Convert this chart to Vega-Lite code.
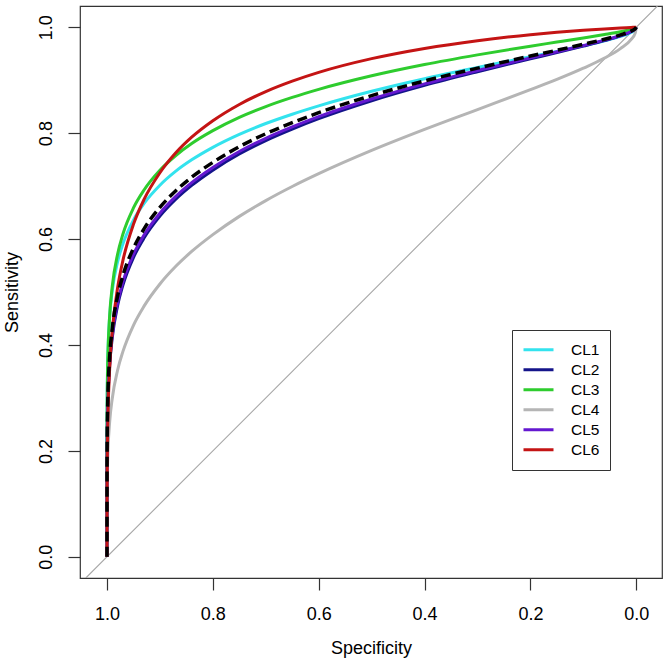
{
  "$schema": "https://vega.github.io/schema/vega-lite/v6.json",
  "width": 582,
  "height": 572,
  "autosize": {"type": "none"},
  "padding": {"left": 80, "right": 2, "top": 6, "bottom": 82},
  "background": "white",
  "config": {
    "font": "Liberation Sans",
    "view": {"stroke": "#333333", "strokeWidth": 1.2},
    "axis": {"grid": false, "domain": false, "tickColor": "#333333", "tickWidth": 1.2, "tickSize": 12,
      "labelFont": "Liberation Sans", "labelFontSize": 18, "labelColor": "black",
      "titleFont": "Liberation Sans", "titleFontSize": 18, "titleFontWeight": "normal", "titleColor": "black"}
  },
  "datasets": {
    "curves": [
      {"s":"CL1","spec":1,"sens":0},{"s":"CL1","spec":0.9999,"sens":0.2451},{"s":"CL1","spec":0.9995,"sens":0.3171},{"s":"CL1","spec":0.999,"sens":0.3538},{"s":"CL1","spec":0.998,"sens":0.394},{"s":"CL1","spec":0.995,"sens":0.453},{"s":"CL1","spec":0.99,"sens":0.5028},{"s":"CL1","spec":0.98,"sens":0.5569},{"s":"CL1","spec":0.97,"sens":0.5906},{"s":"CL1","spec":0.95,"sens":0.6357},{"s":"CL1","spec":0.93,"sens":0.6671},{"s":"CL1","spec":0.9,"sens":0.7016},{"s":"CL1","spec":0.87,"sens":0.7281},{"s":"CL1","spec":0.84,"sens":0.7495},{"s":"CL1","spec":0.8,"sens":0.7731},{"s":"CL1","spec":0.75,"sens":0.7976},{"s":"CL1","spec":0.7,"sens":0.8181},{"s":"CL1","spec":0.65,"sens":0.8357},{"s":"CL1","spec":0.6,"sens":0.8515},{"s":"CL1","spec":0.5,"sens":0.879},{"s":"CL1","spec":0.4,"sens":0.9027},{"s":"CL1","spec":0.3,"sens":0.9239},{"s":"CL1","spec":0.2,"sens":0.9442},{"s":"CL1","spec":0.15,"sens":0.9543},{"s":"CL1","spec":0.1,"sens":0.9649},{"s":"CL1","spec":0.06,"sens":0.9743},{"s":"CL1","spec":0.03,"sens":0.9826},{"s":"CL1","spec":0.01,"sens":0.9902},{"s":"CL1","spec":0.002,"sens":0.9955},{"s":"CL1","spec":0,"sens":1},
      {"s":"CL2","spec":1,"sens":0},{"s":"CL2","spec":0.9999,"sens":0.1591},{"s":"CL2","spec":0.9995,"sens":0.2242},{"s":"CL2","spec":0.999,"sens":0.2594},{"s":"CL2","spec":0.998,"sens":0.299},{"s":"CL2","spec":0.995,"sens":0.3602},{"s":"CL2","spec":0.99,"sens":0.4137},{"s":"CL2","spec":0.98,"sens":0.4741},{"s":"CL2","spec":0.97,"sens":0.5127},{"s":"CL2","spec":0.95,"sens":0.5651},{"s":"CL2","spec":0.93,"sens":0.6018},{"s":"CL2","spec":0.9,"sens":0.6432},{"s":"CL2","spec":0.87,"sens":0.6751},{"s":"CL2","spec":0.84,"sens":0.7012},{"s":"CL2","spec":0.8,"sens":0.7301},{"s":"CL2","spec":0.75,"sens":0.7606},{"s":"CL2","spec":0.7,"sens":0.7859},{"s":"CL2","spec":0.65,"sens":0.8076},{"s":"CL2","spec":0.6,"sens":0.8272},{"s":"CL2","spec":0.5,"sens":0.861},{"s":"CL2","spec":0.4,"sens":0.8901},{"s":"CL2","spec":0.3,"sens":0.9159},{"s":"CL2","spec":0.2,"sens":0.9403},{"s":"CL2","spec":0.15,"sens":0.952},{"s":"CL2","spec":0.1,"sens":0.9643},{"s":"CL2","spec":0.06,"sens":0.9747},{"s":"CL2","spec":0.03,"sens":0.9837},{"s":"CL2","spec":0.01,"sens":0.9916},{"s":"CL2","spec":0.002,"sens":0.9965},{"s":"CL2","spec":0,"sens":1},
      {"s":"CL3","spec":1,"sens":0},{"s":"CL3","spec":0.9999,"sens":0.2257},{"s":"CL3","spec":0.9995,"sens":0.304},{"s":"CL3","spec":0.999,"sens":0.3446},{"s":"CL3","spec":0.998,"sens":0.389},{"s":"CL3","spec":0.995,"sens":0.455},{"s":"CL3","spec":0.99,"sens":0.5108},{"s":"CL3","spec":0.98,"sens":0.5714},{"s":"CL3","spec":0.97,"sens":0.6091},{"s":"CL3","spec":0.95,"sens":0.6587},{"s":"CL3","spec":0.93,"sens":0.6925},{"s":"CL3","spec":0.9,"sens":0.7297},{"s":"CL3","spec":0.87,"sens":0.7577},{"s":"CL3","spec":0.84,"sens":0.7803},{"s":"CL3","spec":0.8,"sens":0.8046},{"s":"CL3","spec":0.75,"sens":0.8297},{"s":"CL3","spec":0.7,"sens":0.8501},{"s":"CL3","spec":0.65,"sens":0.8674},{"s":"CL3","spec":0.6,"sens":0.8826},{"s":"CL3","spec":0.5,"sens":0.9082},{"s":"CL3","spec":0.4,"sens":0.9295},{"s":"CL3","spec":0.3,"sens":0.9477},{"s":"CL3","spec":0.2,"sens":0.9642},{"s":"CL3","spec":0.15,"sens":0.9719},{"s":"CL3","spec":0.1,"sens":0.9797},{"s":"CL3","spec":0.06,"sens":0.9861},{"s":"CL3","spec":0.03,"sens":0.9914},{"s":"CL3","spec":0.01,"sens":0.9958},{"s":"CL3","spec":0.002,"sens":0.9984},{"s":"CL3","spec":0,"sens":1},
      {"s":"CL4","spec":1,"sens":0},{"s":"CL4","spec":0.9999,"sens":0.1006},{"s":"CL4","spec":0.9995,"sens":0.1476},{"s":"CL4","spec":0.999,"sens":0.1739},{"s":"CL4","spec":0.998,"sens":0.205},{"s":"CL4","spec":0.995,"sens":0.2543},{"s":"CL4","spec":0.99,"sens":0.2994},{"s":"CL4","spec":0.98,"sens":0.3523},{"s":"CL4","spec":0.97,"sens":0.3874},{"s":"CL4","spec":0.95,"sens":0.4372},{"s":"CL4","spec":0.93,"sens":0.4733},{"s":"CL4","spec":0.9,"sens":0.5152},{"s":"CL4","spec":0.87,"sens":0.5486},{"s":"CL4","spec":0.84,"sens":0.5765},{"s":"CL4","spec":0.8,"sens":0.6083},{"s":"CL4","spec":0.75,"sens":0.6428},{"s":"CL4","spec":0.7,"sens":0.6726},{"s":"CL4","spec":0.65,"sens":0.6992},{"s":"CL4","spec":0.6,"sens":0.7234},{"s":"CL4","spec":0.5,"sens":0.7673},{"s":"CL4","spec":0.4,"sens":0.807},{"s":"CL4","spec":0.3,"sens":0.8445},{"s":"CL4","spec":0.2,"sens":0.882},{"s":"CL4","spec":0.15,"sens":0.9013},{"s":"CL4","spec":0.1,"sens":0.9225},{"s":"CL4","spec":0.06,"sens":0.9418},{"s":"CL4","spec":0.03,"sens":0.9596},{"s":"CL4","spec":0.01,"sens":0.9765},{"s":"CL4","spec":0.002,"sens":0.9888},{"s":"CL4","spec":0,"sens":1},
      {"s":"CL5","spec":1,"sens":0},{"s":"CL5","spec":0.9999,"sens":0.1628},{"s":"CL5","spec":0.9995,"sens":0.2287},{"s":"CL5","spec":0.999,"sens":0.2643},{"s":"CL5","spec":0.998,"sens":0.3043},{"s":"CL5","spec":0.995,"sens":0.3658},{"s":"CL5","spec":0.99,"sens":0.4196},{"s":"CL5","spec":0.98,"sens":0.4801},{"s":"CL5","spec":0.97,"sens":0.5187},{"s":"CL5","spec":0.95,"sens":0.571},{"s":"CL5","spec":0.93,"sens":0.6076},{"s":"CL5","spec":0.9,"sens":0.6488},{"s":"CL5","spec":0.87,"sens":0.6805},{"s":"CL5","spec":0.84,"sens":0.7064},{"s":"CL5","spec":0.8,"sens":0.735},{"s":"CL5","spec":0.75,"sens":0.7652},{"s":"CL5","spec":0.7,"sens":0.7902},{"s":"CL5","spec":0.65,"sens":0.8116},{"s":"CL5","spec":0.6,"sens":0.831},{"s":"CL5","spec":0.5,"sens":0.8643},{"s":"CL5","spec":0.4,"sens":0.8929},{"s":"CL5","spec":0.3,"sens":0.9182},{"s":"CL5","spec":0.2,"sens":0.942},{"s":"CL5","spec":0.15,"sens":0.9535},{"s":"CL5","spec":0.1,"sens":0.9655},{"s":"CL5","spec":0.06,"sens":0.9756},{"s":"CL5","spec":0.03,"sens":0.9843},{"s":"CL5","spec":0.01,"sens":0.9919},{"s":"CL5","spec":0.002,"sens":0.9967},{"s":"CL5","spec":0,"sens":1},
      {"s":"CL6","spec":1,"sens":0},{"s":"CL6","spec":0.9999,"sens":0.1093},{"s":"CL6","spec":0.9995,"sens":0.182},{"s":"CL6","spec":0.999,"sens":0.2242},{"s":"CL6","spec":0.998,"sens":0.2746},{"s":"CL6","spec":0.995,"sens":0.3549},{"s":"CL6","spec":0.99,"sens":0.4266},{"s":"CL6","spec":0.98,"sens":0.5076},{"s":"CL6","spec":0.97,"sens":0.5592},{"s":"CL6","spec":0.95,"sens":0.6278},{"s":"CL6","spec":0.93,"sens":0.6747},{"s":"CL6","spec":0.9,"sens":0.7251},{"s":"CL6","spec":0.87,"sens":0.7627},{"s":"CL6","spec":0.84,"sens":0.7922},{"s":"CL6","spec":0.8,"sens":0.8233},{"s":"CL6","spec":0.75,"sens":0.8541},{"s":"CL6","spec":0.7,"sens":0.8784},{"s":"CL6","spec":0.65,"sens":0.8981},{"s":"CL6","spec":0.6,"sens":0.9147},{"s":"CL6","spec":0.5,"sens":0.9406},{"s":"CL6","spec":0.4,"sens":0.9599},{"s":"CL6","spec":0.3,"sens":0.9746},{"s":"CL6","spec":0.2,"sens":0.9858},{"s":"CL6","spec":0.15,"sens":0.9903},{"s":"CL6","spec":0.1,"sens":0.9942},{"s":"CL6","spec":0.06,"sens":0.9968},{"s":"CL6","spec":0.03,"sens":0.9985},{"s":"CL6","spec":0.01,"sens":0.9995},{"s":"CL6","spec":0.002,"sens":0.9999},{"s":"CL6","spec":0,"sens":1}
    ],
    "overall": [
      {"spec":1,"sens":0},{"spec":0.9999,"sens":0.1702},{"spec":0.9995,"sens":0.2378},{"spec":0.999,"sens":0.2741},{"spec":0.998,"sens":0.3148},{"spec":0.995,"sens":0.3771},{"spec":0.99,"sens":0.4313},{"spec":0.98,"sens":0.4921},{"spec":0.97,"sens":0.5307},{"spec":0.95,"sens":0.5828},{"spec":0.93,"sens":0.6191},{"spec":0.9,"sens":0.6599},{"spec":0.87,"sens":0.6912},{"spec":0.84,"sens":0.7167},{"spec":0.8,"sens":0.7448},{"spec":0.75,"sens":0.7744},{"spec":0.7,"sens":0.7988},{"spec":0.65,"sens":0.8197},{"spec":0.6,"sens":0.8386},{"spec":0.5,"sens":0.8708},{"spec":0.4,"sens":0.8985},{"spec":0.3,"sens":0.9227},{"spec":0.2,"sens":0.9455},{"spec":0.15,"sens":0.9564},{"spec":0.1,"sens":0.9678},{"spec":0.06,"sens":0.9773},{"spec":0.03,"sens":0.9855},{"spec":0.01,"sens":0.9926},{"spec":0.002,"sens":0.997},{"spec":0,"sens":1}
    ],
    "diagonal": [
      {"spec": 1.04, "sens": -0.04}, {"spec": -0.04, "sens": 1.04}
    ]
  },
  "encoding": {
    "x": {"field": "spec", "type": "quantitative", "title": "Specificity",
      "scale": {"domain": [-0.0486, 1.051], "reverse": true, "nice": false, "zero": false},
      "axis": {"values": [0, 0.2, 0.4, 0.6, 0.8, 1.0], "format": ".1f", "labelBaseline": "middle", "labelPadding": 24,
        "titleBaseline": "middle", "titleY": 70, "titleX": 291, "titleAnchor": "middle"}},
    "y": {"field": "sens", "type": "quantitative", "title": "Sensitivity",
      "scale": {"domain": [-0.04, 1.04], "nice": false, "zero": false},
      "axis": {"values": [0, 0.2, 0.4, 0.6, 0.8, 1.0], "format": ".1f", "labelAngle": -90, "labelAlign": "center", "labelBaseline": "middle", "labelPadding": 22,
        "titleAngle": -90, "titleAlign": "center", "titleBaseline": "middle", "titleX": -68, "titleY": 286}}
  },
  "layer": [
    {
      "data": {"name": "diagonal"},
      "mark": {"type": "line", "color": "#a6a6a6", "strokeWidth": 1.1, "clip": true},
      "encoding": {}
    },
    {
      "data": {"name": "curves"},
      "mark": {"type": "line", "strokeWidth": 3, "clip": true, "interpolate": "monotone"},
      "encoding": {
        "color": {"field": "s", "type": "nominal",
          "scale": {"domain": ["CL1", "CL2", "CL3", "CL4", "CL5", "CL6"],
            "range": ["#33e3ee", "#14148a", "#2ecc2e", "#b5b5b5", "#6418d0", "#c41414"]},
          "legend": {"title": null, "orient": "none", "legendX": 432, "legendY": 324,
            "symbolType": "stroke", "symbolSize": 900, "symbolStrokeWidth": 3,
            "labelFontSize": 15.5, "labelFont": "Liberation Sans", "labelColor": "black", "labelOffset": 16,
            "strokeColor": "#333333", "padding": 10, "rowPadding": 0, "clipHeight": 19.5, "fillColor": "white"}},
        "order": {"field": "spec", "type": "quantitative", "sort": "descending"}
      }
    },
    {
      "data": {"name": "overall"},
      "mark": {"type": "line", "color": "black", "strokeWidth": 3.5, "strokeDash": [10, 5], "clip": true, "interpolate": "monotone"},
      "encoding": {"order": {"field": "spec", "type": "quantitative", "sort": "descending"}}
    }
  ]
}
